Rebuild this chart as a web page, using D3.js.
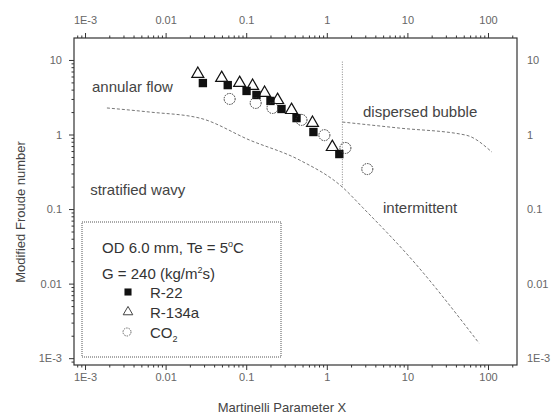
<!DOCTYPE html>
<html>
<head>
<meta charset="utf-8">
<script src="https://cdn.jsdelivr.net/npm/d3@7"></script>
<style>
  body { margin: 0; background: #fff; }
  svg { display: block; font-family: "Liberation Sans", Arial, sans-serif; }
</style>
</head>
<body>
<svg id="chart" width="560" height="416"></svg>
<script>
// data
const r22X = [0.029, 0.059, 0.101, 0.134, 0.200, 0.274, 0.421, 0.682, 1.43];
const r22Y = [4.9, 4.6, 3.84, 3.39, 2.82, 2.20, 1.66, 1.08, 0.547];
const r134aX = [0.0251, 0.0496, 0.0829, 0.120, 0.169, 0.245, 0.365, 0.664, 1.17];
const r134aY = [6.49, 5.73, 4.91, 4.48, 3.61, 2.90, 2.13, 1.43, 0.679];
const co2X = [0.0623, 0.131, 0.212, 0.485, 0.933, 1.70, 3.18];
const co2Y = [3.0, 2.65, 2.27, 1.57, 0.98, 0.66, 0.344];

// flow pattern boundaries
const stratX = [0.00187, 0.00637, 0.0265, 0.110, 0.458, 1.56, 2.76, 11.5, 77.4];
const stratY = [2.27, 2.0, 1.66, 0.843, 0.455, 0.197, 0.106, 0.0207, 0.00159];
const bubbleX = [1.56, 7.92, 53.4, 112];
const bubbleY = [1.47, 1.22, 0.98, 0.58];
const interX = [1.56, 1.56];
const interY = [9.5, 0.197];

const yMajorTicks = [0.001, 0.01, 0.1, 1, 10];

const svg = d3.select("#chart");
const mLeft = 74, mRight = 517, mTop = 38, mBottom = 365;

const x = d3.scaleLog().domain([0.00073, 229]).range([mLeft, mRight]);
const y = d3.scaleLog().domain([19.7, 0.00081]).range([mTop, mBottom]);

const fmt = (d) => (d === 0.001 ? "1E-3" : d3.format("~g")(d));

function minors(scale) {
  const [a, b] = scale.domain().slice().sort(d3.ascending);
  const out = [];
  for (let e = -4; e <= 3; e++) {
    for (let m = 1; m <= 9; m++) {
      const v = m * Math.pow(10, e);
      if (v >= a && v <= b) out.push(v);
    }
  }
  return out;
}
const isMajor = (d) => Math.abs(Math.log10(d) - Math.round(Math.log10(d))) < 1e-9;

const axisColor = "#333";
const labelColor = "#666";

function styleAxis(g, vertical) {
  g.select(".domain").remove();
  g.selectAll(".tick line")
    .attr("stroke", axisColor)
    .attr(vertical ? "x2" : "y2", function (d) {
      const v = +d3.select(this).attr(vertical ? "x2" : "y2");
      return isMajor(d) ? v : v * 0.5;
    });
  g.selectAll(".tick text")
    .attr("fill", labelColor)
    .attr("font-size", 11)
    .text((d) => (isMajor(d) ? fmt(d) : ""));
}

// axes
svg.append("g")
  .attr("transform", `translate(0,${mBottom})`)
  .call(d3.axisBottom(x).tickValues(minors(x)).tickSize(5).tickPadding(3))
  .call((g) => styleAxis(g, false));

svg.append("g")
  .attr("transform", `translate(0,${mTop})`)
  .call(d3.axisTop(x).tickValues(minors(x)).tickSize(5).tickPadding(9))
  .call((g) => styleAxis(g, false));

svg.append("g")
  .attr("transform", `translate(${mLeft},0)`)
  .call(d3.axisLeft(y).tickValues(minors(y)).tickSize(5).tickPadding(7))
  .call((g) => styleAxis(g, true));

svg.append("g")
  .attr("transform", `translate(${mRight},0)`)
  .call(d3.axisRight(y).tickValues(yMajorTicks).tickSize(0).tickPadding(10))
  .call((g) => styleAxis(g, true));

// frame
svg.append("rect")
  .attr("x", mLeft).attr("y", mTop)
  .attr("width", mRight - mLeft).attr("height", mBottom - mTop)
  .attr("fill", "none")
  .attr("stroke", axisColor)
  .attr("stroke-width", 1.2);

// boundaries
const line = d3.line()
  .x((d) => x(d[0]))
  .y((d) => y(d[1]))
  .curve(d3.curveMonotoneX);

svg.append("path")
  .datum(d3.zip(stratX, stratY))
  .attr("d", line)
  .attr("fill", "none")
  .attr("stroke", "#777")
  .attr("stroke-dasharray", "3,2");

svg.append("path")
  .datum(d3.zip(bubbleX, bubbleY))
  .attr("d", line)
  .attr("fill", "none")
  .attr("stroke", "#777")
  .attr("stroke-dasharray", "3,2");

svg.append("path")
  .datum(d3.zip(interX, interY))
  .attr("d", d3.line().x((d) => x(d[0])).y((d) => y(d[1])))
  .attr("fill", "none")
  .attr("stroke", "#888")
  .attr("stroke-dasharray", "1,1.5");

// region labels
const regions = [
  { text: "annular flow", lx: 0.00122, ly: 3.73 },
  { text: "dispersed bubble", lx: 2.81, ly: 1.72 },
  { text: "stratified wavy", lx: 0.00116, ly: 0.155 },
  { text: "intermittent", lx: 4.98, ly: 0.0887 },
];
svg.append("g")
  .selectAll("text")
  .data(regions)
  .join("text")
  .attr("x", (d) => x(d.lx))
  .attr("y", (d) => y(d.ly))
  .attr("font-size", 15)
  .attr("fill", "#444")
  .text((d) => d.text);

// markers
const tri = d3.symbol().type(d3.symbolTriangle).size(62);
const sq = d3.symbol().type(d3.symbolSquare).size(70);

svg.append("g")
  .selectAll("path")
  .data(d3.zip(r134aX, r134aY))
  .join("path")
  .attr("transform", (d) => `translate(${x(d[0])},${y(d[1])})`)
  .attr("d", tri)
  .attr("fill", "#fff")
  .attr("stroke", "#111")
  .attr("stroke-width", 1.2);

svg.append("g")
  .selectAll("path")
  .data(d3.zip(r22X, r22Y))
  .join("path")
  .attr("transform", (d) => `translate(${x(d[0])},${y(d[1])})`)
  .attr("d", sq)
  .attr("fill", "#111");

svg.append("g")
  .selectAll("circle")
  .data(d3.zip(co2X, co2Y))
  .join("circle")
  .attr("cx", (d) => x(d[0]))
  .attr("cy", (d) => y(d[1]))
  .attr("r", 5.5)
  .attr("fill", "none")
  .attr("stroke", "#333")
  .attr("stroke-width", 1)
  .attr("stroke-dasharray", "1.5,1");

// legend
const lg = svg.append("g");
lg.append("rect")
  .attr("x", 82).attr("y", 222)
  .attr("width", 199).attr("height", 135)
  .attr("fill", "#fff")
  .attr("stroke", "#555")
  .attr("stroke-dasharray", "1,1");

const t1 = lg.append("text").attr("x", 102).attr("y", 253).attr("font-size", 15).attr("fill", "#333");
t1.append("tspan").text("OD 6.0 mm, Te = 5");
t1.append("tspan").attr("font-size", 9).attr("dy", -6).text("o");
t1.append("tspan").attr("dy", 6).text("C");

const t2 = lg.append("text").attr("x", 102).attr("y", 279).attr("font-size", 15).attr("fill", "#333");
t2.append("tspan").text("G = 240 (kg/m");
t2.append("tspan").attr("font-size", 9).attr("dy", -6).text("2");
t2.append("tspan").attr("dy", 6).text("s)");

const items = [
  { label: "R-22", sub: "", y: 298, kind: "sq" },
  { label: "R-134a", sub: "", y: 318, kind: "tri" },
  { label: "CO", sub: "2", y: 338, kind: "circ" },
];
const sqSmall = d3.symbol().type(d3.symbolSquare).size(50);
const triSmall = d3.symbol().type(d3.symbolTriangle).size(40);
items.forEach((it) => {
  const cy = it.y - 6;
  if (it.kind === "sq") {
    lg.append("path").attr("transform", `translate(128,${cy})`).attr("d", sqSmall).attr("fill", "#111");
  } else if (it.kind === "tri") {
    lg.append("path").attr("transform", `translate(128,${cy})`).attr("d", triSmall)
      .attr("fill", "#fff").attr("stroke", "#444").attr("stroke-width", 1);
  } else {
    lg.append("circle").attr("cx", 127).attr("cy", cy).attr("r", 4)
      .attr("fill", "none").attr("stroke", "#666").attr("stroke-dasharray", "1.5,1");
  }
  const t = lg.append("text").attr("x", 150).attr("y", it.y).attr("font-size", 15).attr("fill", "#333");
  t.append("tspan").text(it.label);
  if (it.sub) t.append("tspan").attr("font-size", 9).attr("dy", 4).text(it.sub);
});

// axis titles
svg.append("text")
  .attr("x", 282)
  .attr("y", 412)
  .attr("text-anchor", "middle")
  .attr("font-size", 13)
  .attr("fill", "#444")
  .text("Martinelli Parameter X");

svg.append("text")
  .attr("transform", `translate(25,212) rotate(-90)`)
  .attr("text-anchor", "middle")
  .attr("font-size", 13)
  .attr("fill", "#444")
  .text("Modified Froude number");
</script>
</body>
</html>
